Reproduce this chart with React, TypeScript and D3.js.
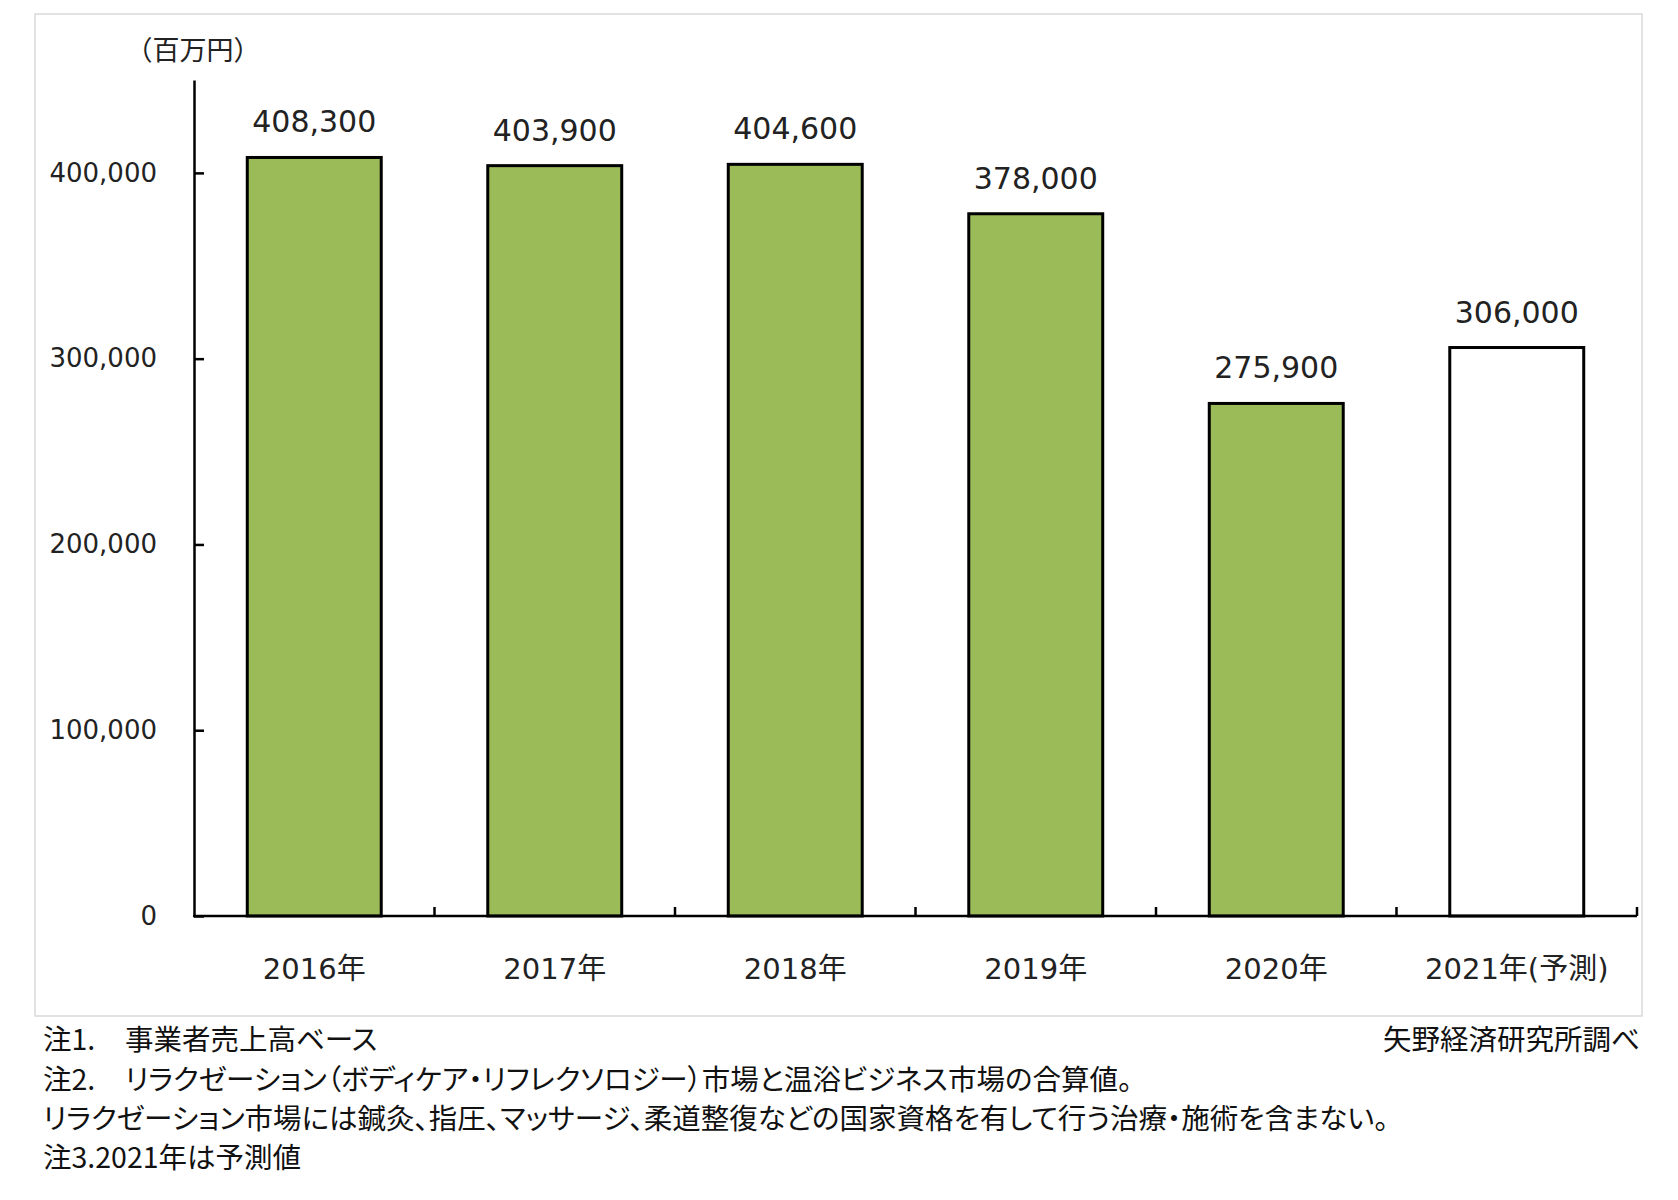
import React, { useEffect, useRef } from 'react';
import * as d3 from 'd3';

const years = ['2016年', '2017年', '2018年', '2019年', '2020年', '2021年(予測)'];
const sales = [408300, 403900, 404600, 378000, 275900, 306000];
const forecast = [false, false, false, false, false, true];
const yTicks = [0, 100000, 200000, 300000, 400000];
const unitLabel = '（百万円）';
const notePrefixes = ['注1.', '注2.', '', ''];
const noteBodies = [
  '事業者売上高ベース',
  'リラクゼーション（ボディケア・リフレクソロジー）市場と温浴ビジネス市場の合算値。',
  'リラクゼーション市場には鍼灸、指圧、マッサージ、柔道整復などの国家資格を有して行う治療・施術を含まない。',
  '注3.2021年は予測値',
];
const source = '矢野経済研究所調べ';

const W = 1678;
const H = 1200;
const LATIN = '"DejaVu Sans", "Noto Sans CJK JP", sans-serif';
const CJK = '"Noto Sans CJK JP", sans-serif';

function App() {
  const ref = useRef<SVGSVGElement>(null);

  useEffect(() => {
    if (!ref.current) return;
    const svg = d3.select(ref.current);
    svg.selectAll('*').remove();

    // plot area
    const left = 194, right = 1637, bottom = 916, top = 80;

    const x = d3.scaleBand()
      .domain(years)
      .range([left, right])
      .paddingInner(0.443)
      .paddingOuter(0.2215);

    const y = d3.scaleLinear()
      .domain([0, 450000])
      .range([bottom, top]);

    const fmt = d3.format(',');

    // chart frame
    svg.append('rect')
      .attr('x', 35).attr('y', 14)
      .attr('width', 1607).attr('height', 1002)
      .attr('fill', '#fff')
      .attr('stroke', '#d9d9d9')
      .attr('stroke-width', 1.5);

    // unit label
    svg.append('text')
      .attr('x', 193).attr('y', 60)
      .attr('text-anchor', 'middle')
      .style('font-family', CJK)
      .style('font-size', '27px')
      .attr('fill', '#222')
      .text(unitLabel);

    // bars
    const data = years.map((yr, i) => ({ yr, v: sales[i], f: forecast[i] }));
    svg.append('g').selectAll('rect')
      .data(data)
      .join('rect')
      .attr('x', d => x(d.yr)!)
      .attr('y', d => y(d.v))
      .attr('width', x.bandwidth())
      .attr('height', d => bottom - y(d.v))
      .attr('fill', d => d.f ? '#ffffff' : '#9bbb59')
      .attr('stroke', '#000')
      .attr('stroke-width', 3);

    // value labels
    svg.append('g').selectAll('text')
      .data(data)
      .join('text')
      .attr('x', d => x(d.yr)! + x.bandwidth() / 2)
      .attr('y', d => y(d.v) - 25)
      .attr('text-anchor', 'middle')
      .style('font-family', LATIN)
      .style('font-size', '30px')
      .attr('fill', '#222')
      .text(d => fmt(d.v));

    // y axis, ticks pointing inward
    const yAxis = svg.append('g')
      .attr('transform', `translate(${left},0)`)
      .call(d3.axisLeft(y).tickValues(yTicks).tickSizeInner(-10).tickSizeOuter(0).tickPadding(37).tickFormat(d => fmt(+d)));
    yAxis.select('.domain').attr('stroke', '#000').attr('stroke-width', 2.5);
    yAxis.selectAll('.tick line').attr('stroke', '#000').attr('stroke-width', 2.5);
    yAxis.selectAll('.tick text')
      .style('font-family', LATIN)
      .style('font-size', '26px')
      .attr('fill', '#222');

    // x axis line with boundary ticks
    svg.append('line')
      .attr('x1', left - 1).attr('x2', right)
      .attr('y1', bottom).attr('y2', bottom)
      .attr('stroke', '#000').attr('stroke-width', 2.5);
    const bounds = years.slice(1).map(yr => x(yr)! - x.step() * x.paddingInner() / 2).concat([right]);
    svg.append('g').selectAll('line')
      .data(bounds)
      .join('line')
      .attr('x1', d => d).attr('x2', d => d)
      .attr('y1', bottom).attr('y2', bottom - 9)
      .attr('stroke', '#000').attr('stroke-width', 2.5);

    // category labels
    svg.append('g').selectAll('text')
      .data(years)
      .join('text')
      .attr('x', d => x(d)! + x.bandwidth() / 2)
      .attr('y', 979)
      .attr('text-anchor', 'middle')
      .style('font-family', LATIN)
      .style('font-size', '29px')
      .attr('fill', '#222')
      .text(d => d);

    // notes
    const noteY = [1050, 1090, 1129, 1168];
    const notes = svg.append('g')
      .style('font-family', CJK)
      .style('font-size', '28.5px')
      .style('font-feature-settings', '"palt"')
      .attr('fill', '#111');
    notePrefixes.forEach((p, i) => {
      if (p) notes.append('text').attr('x', 43).attr('y', noteY[i]).text(p);
      notes.append('text').attr('x', p ? 125 : 43).attr('y', noteY[i]).text(noteBodies[i]);
    });
    notes.append('text')
      .attr('x', 1640).attr('y', noteY[0])
      .attr('text-anchor', 'end')
      .text(source);
  }, []);

  return (
    <svg ref={ref} width={W} height={H}
      style={{ position: 'absolute', left: 0, top: 0, background: '#fff' }} />
  );
}

export default App;
